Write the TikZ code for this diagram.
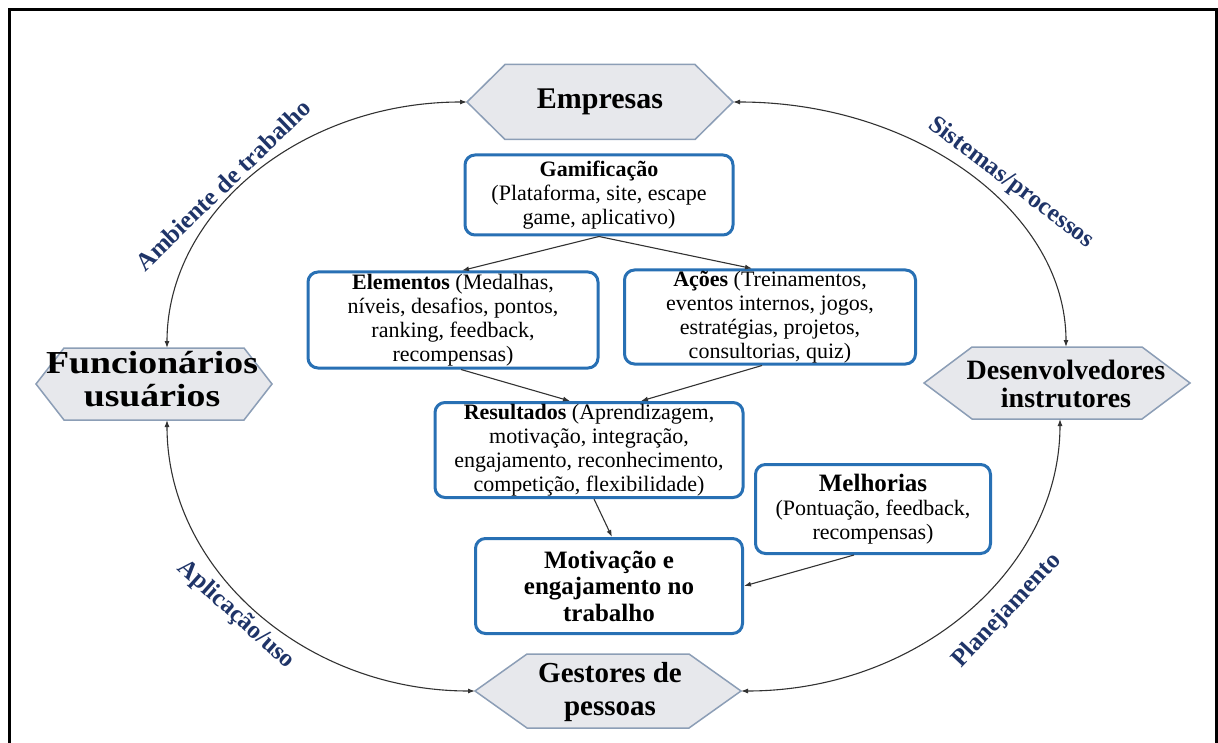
\documentclass[tikz,border=0pt]{standalone}
\usepackage{fontspec}
\usepackage{graphicx}
\setmainfont{Liberation Serif}
\usetikzlibrary{arrows.meta,calc}

\definecolor{boxblue}{RGB}{40,112,180}
\definecolor{hexfill}{RGB}{231,232,236}
\definecolor{hexline}{RGB}{140,158,182}
\definecolor{labelnavy}{RGB}{31,52,104}
\definecolor{wire}{RGB}{50,50,50}

% hexagon outline: name, centre x, centre y, half width, half height, slant inset
\newcommand\hexoutline[6]{%
  \draw[hexbox] (#2-#4,#3) -- (#2-#4+#6,#3-#5) -- (#2+#4-#6,#3-#5)
    -- (#2+#4,#3) -- (#2+#4-#6,#3+#5) -- (#2-#4+#6,#3+#5) -- cycle;
  \coordinate (#1-w) at (#2-#4,#3);
  \coordinate (#1-e) at (#2+#4,#3);
}

\tikzset{
  hexbox/.style={draw=hexline, fill=hexfill, line width=1.5pt, line join=miter},
  hextext/.style={align=center, inner sep=0pt, font=\bfseries\fontsize{30}{32}\selectfont},
  card/.style={draw=boxblue, line width=3pt, rounded corners=10pt, fill=white,
    align=center, inner sep=0pt, font=\fontsize{22}{24}\selectfont},
  flow/.style={draw=wire, line width=1.1pt, -{Latex[length=7pt,width=5pt]}},
  cycle arc/.style={draw=wire, line width=1.1pt,
    {Latex[length=7pt,width=5pt]}-{Latex[length=7pt,width=5pt]}},
  arclabel/.style={text=labelnavy, inner sep=0pt, font=\bfseries\fontsize{25}{25}\selectfont},
}

\begin{document}
\begin{tikzpicture}[x=1pt,y=-1pt]
\useasboundingbox (0,0) rectangle (1218,743);

% frame
\draw[line width=3pt] (9.5,743) -- (9.5,9.5) -- (1216.5,9.5) -- (1216.5,743);

% the four actors
\hexoutline{emp}{600}{102}{133}{37.5}{38}
\node[hextext] (empt) at (600,102) {Empresas};

\hexoutline{fun}{154}{384}{118}{36}{28}
\node[hextext, font=\bfseries\fontsize{32}{33}\selectfont] (funt) at (152,379)
  {\scalebox{1.18}[1]{Funcionários}\\\scalebox{1.18}[1]{usuários}};

\hexoutline{dev}{1057}{383}{133}{36}{48}
\node[hextext, font=\bfseries\fontsize{28}{28}\selectfont] (devt) at (1066,384)
  {Desenvolvedores\\instrutores};

\hexoutline{ges}{608}{691}{133}{37}{52}
\node[hextext, font=\bfseries\fontsize{29}{33}\selectfont] (gest) at (610,692)
  {Gestores de\\pessoas};

\coordinate (fun-top) at (167,348);
\coordinate (fun-bot) at (167,420);
\coordinate (dev-top) at (1066,347);
\coordinate (dev-bot) at (1060,419);

% outer cycle
\draw[cycle arc] (emp-w) .. controls (301,102) and (167,212) .. (fun-top);
\draw[cycle arc] (emp-e) .. controls (916,102) and (1066,212) .. (dev-top);
\draw[cycle arc] (fun-bot) .. controls (167,570) and (305,691) .. (ges-w);
\draw[cycle arc] (dev-bot) .. controls (1060,569) and (918,691) .. (ges-e);

\node[arclabel, rotate=44] (lamb) at (223,185) {Ambiente de trabalho};
\node[arclabel, rotate=-37] (lsis) at (1011,183) {Sistemas/processos};
\node[arclabel, rotate=-42] (lapl) at (236,615) {Aplicação/uso};
\node[arclabel, rotate=47] (lpla) at (1007,611) {Planejamento};

% central flow
\node[card, minimum width=268pt, minimum height=80pt] (gam) at (599,195)
  {\textbf{Gamificação}\\(Plataforma, site, escape\\game, aplicativo)};
\node[card, minimum width=290pt, minimum height=96pt] (ele) at (453,320)
  {\textbf{Elementos} (Medalhas,\\níveis, desafios, pontos,\\ranking, feedback,\\recompensas)};
\node[card, minimum width=291pt, minimum height=94pt] (aco) at (770,317)
  {\textbf{Ações} (Treinamentos,\\eventos internos, jogos,\\estratégias, projetos,\\consultorias, quiz)};
\node[card, minimum width=308pt, minimum height=95pt] (res) at (589,450)
  {\textbf{Resultados} (Aprendizagem,\\motivação, integração,\\engajamento, reconhecimento,\\competição, flexibilidade)};
\node[card, minimum width=235pt, minimum height=89pt] (mel) at (873,509)
  {{\fontsize{25}{25}\selectfont\textbf{Melhorias}}\\(Pontuação, feedback,\\recompensas)};
\node[card, minimum width=267pt, minimum height=95pt,
      font=\bfseries\fontsize{25}{26.5}\selectfont] (mot) at (609,586)
  {Motivação e\\engajamento no\\trabalho};

\draw[flow] (gam.south) -- ([xshift=9pt]ele.north);
\draw[flow] (gam.south) -- ([xshift=-18pt]aco.north);
\draw[flow] ([xshift=8pt]ele.south) -- ([xshift=-19pt]res.north);
\draw[flow] ([xshift=-8pt]aco.south) -- ([xshift=52pt]res.north);
\draw[flow] ([xshift=5pt]res.south) -- ([xshift=3pt]mot.north);
\draw[flow] ([xshift=-19pt]mel.south) -- (mot.east);
\end{tikzpicture}
\end{document}
